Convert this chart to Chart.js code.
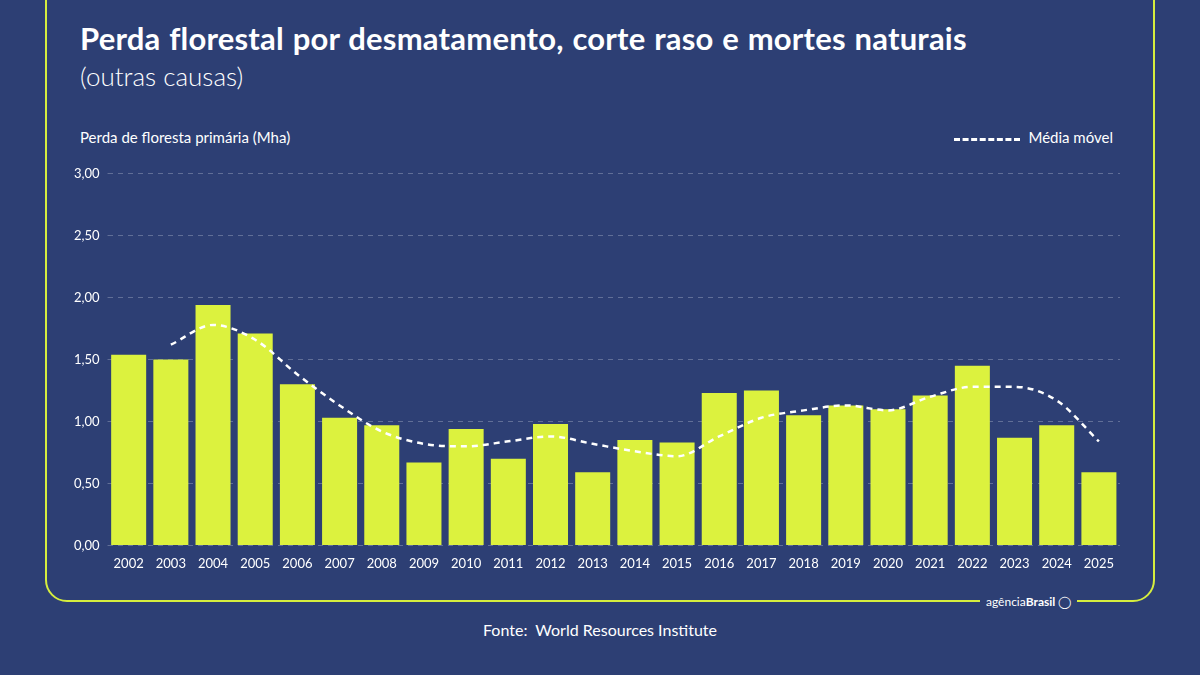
<!DOCTYPE html>
<html><head><meta charset="utf-8">
<script src="https://cdn.jsdelivr.net/npm/chart.js@4"></script>
<style>
body{margin:0;width:1200px;height:675px;background:#2d3f74;font-family:Lato,"Noto Sans",sans-serif;overflow:hidden;position:relative;color:#fff}
#panel{position:absolute;left:45px;top:-30px;width:1110px;height:632px;border:2px solid #d6ee3e;border-radius:22px;box-sizing:border-box}
#t1{position:absolute;left:80px;top:19px;font-size:31px;font-weight:bold;word-spacing:1px;letter-spacing:0.2px}
#t2{position:absolute;left:80px;top:60px;font-size:26px;font-weight:300}
#yl{position:absolute;left:80px;top:128px;font-size:15px}
#lg{position:absolute;right:87px;top:128px;font-size:15px}
#lg span{display:inline-block;width:66px;border-top:3px dashed #fff;vertical-align:middle;margin-right:8px}
#src{position:absolute;left:0;width:1200px;top:620px;text-align:center;font-size:16px}
#logo{position:absolute;left:980px;top:594px;font-size:12px;background:#2d3f74;padding:0 6px}
#wrap{position:absolute;left:66px;top:158px;width:1054px;height:417px}
</style></head><body>
<div id="panel"></div>
<div id="t1">Perda florestal por desmatamento, corte raso e mortes naturais</div>
<div id="t2">(outras causas)</div>
<div id="yl">Perda de floresta primária (Mha)</div>
<div id="lg"><span></span>Média móvel</div>
<div id="logo">agência<b>Brasil</b> ◯</div>
<div id="src">Fonte:&nbsp; World Resources Institute</div>
<div id="wrap"><canvas id="c"></canvas></div>
<script>
var anos = ['2002','2003','2004','2005','2006','2007','2008','2009','2010','2011','2012','2013','2014','2015','2016','2017','2018','2019','2020','2021','2022','2023','2024','2025'];
var perda = [1.54,1.50,1.94,1.71,1.30,1.03,0.97,0.67,0.94,0.70,0.98,0.59,0.85,0.83,1.23,1.25,1.05,1.13,1.10,1.21,1.45,0.87,0.97,0.59];
var mediaMovel = [null,1.62,1.78,1.66,1.38,1.13,0.92,0.82,0.80,0.84,0.88,0.82,0.76,0.72,0.88,1.03,1.09,1.13,1.09,1.20,1.28,1.28,1.17,0.84];

new Chart(document.getElementById('c'), {
  data: {
    labels: anos,
    datasets: [
      { type: 'line', data: mediaMovel, borderColor: '#fff', borderWidth: 2.5, borderDash: [6,5],
        pointRadius: 0, cubicInterpolationMode: 'monotone', order: 0 },
      { type: 'bar', data: perda, backgroundColor: '#dcf23e', barPercentage: 0.83, categoryPercentage: 1, order: 1 }
    ]
  },
  options: {
    responsive: true, maintainAspectRatio: false, animation: false,
    plugins: { legend: { display: false }, tooltip: { enabled: false } },
    scales: {
      x: { grid: { display: false }, border: { display: false },
           ticks: { color: '#fff', font: { family: 'Lato', size: 13 } } },
      y: { min: 0, max: 3, border: { display: false, dash: [5,5] },
           grid: { color: 'rgba(255,255,255,0.25)', tickLength: 0 },
           ticks: { stepSize: 0.5, color: '#fff', padding: 8, font: { family: 'Lato', size: 13 },
                    callback: function (v) { return v.toFixed(2).replace('.', ','); } } }
    }
  }
});
</script>
</body></html>
